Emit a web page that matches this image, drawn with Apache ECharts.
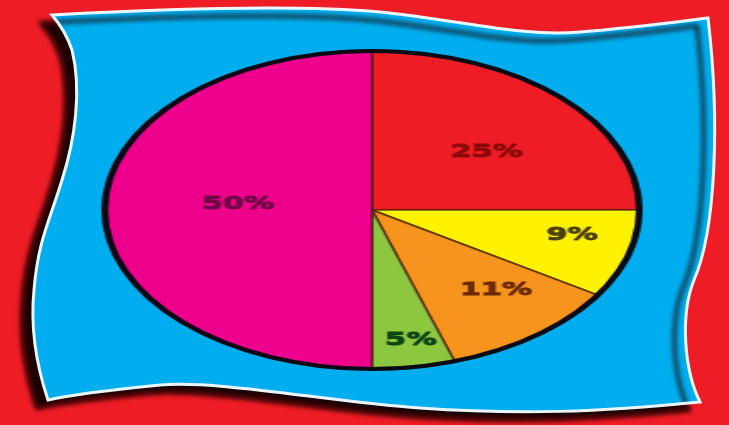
<!DOCTYPE html>
<html>
<head>
<meta charset="utf-8">
<script src="https://cdn.jsdelivr.net/npm/echarts@6/dist/echarts.min.js"></script>
<style>
    html, body { margin: 0; padding: 0; background: #ee1c25; }
    #flag { position: absolute; left: 0; top: 0; width: 729px; height: 425px; }
    /* pie is drawn round, then stretched into the ellipse of the picture */
    #pie { position: absolute; left: 211px; top: 49px; width: 322px; height: 322px;
           transform: scaleX(1.681); transform-origin: 50% 50%; }
</style>
</head>
<body>
<div id="flag"></div>
<div id="pie"></div>
<script>
    var categories = ['25%', '9%', '11%', '5%', '50%'];
    var values = [25, 9, 11, 5, 50];
    var sliceColors = ['#ee1c25', '#fff200', '#f7941d', '#8dc63f', '#ec008c'];
    var labelColors = ['#8a0a0a', '#4a4000', '#6b2a00', '#0c4412', '#6e0842'];
    // where each label sits: share of the radius, and a small turn in degrees
    var labelRadius = [0.56, 0.76, 0.68, 0.825, 0.5];
    var labelTurn = [4.7, -4.3, -4.9, -1.1, 4.3];

    var total = values.reduce(function (a, b) { return a + b; }, 0);

    // wavy flag outline
    var flagPath = 'M52,15 C180,8 300,5 380,12 C460,20 520,37 580,32 C640,27 690,20 708,18 ' +
        'C720,120 716,230 694,280 C680,315 684,370 700,402 ' +
        'C600,412 520,415 420,408 C330,402 220,380 160,385 C110,390 70,395 48,400 ' +
        'C38,370 30,330 34,290 C38,240 50,220 62,180 C75,140 82,90 72,50 C66,32 58,22 52,15 Z';
    echarts.graphic.registerShape('flag', echarts.graphic.extendPath(flagPath, {}));

    var flagChart = echarts.init(document.getElementById('flag'));
    flagChart.setOption({
        backgroundColor: '#ee1c25',
        animation: false,
        graphic: [{
            type: 'flag',
            silent: true,
            style: {
                fill: '#00aeef',
                stroke: '#eaf6ff',
                lineWidth: 3,
                shadowColor: 'rgba(30,0,0,1)',
                shadowBlur: 5,
                shadowOffsetX: -11,
                shadowOffsetY: 8
            }
        }]
    });

    var pieChart = echarts.init(document.getElementById('pie'));
    var cx = pieChart.getWidth() / 2;
    var cy = pieChart.getHeight() / 2;
    var R = 160;

    pieChart.setOption({
        animation: false,
        series: [{
            type: 'pie',
            radius: R,
            center: ['50%', '50%'],
            startAngle: 90,
            clockwise: true,
            silent: true,
            data: values.map(function (v, i) {
                return {
                    name: categories[i],
                    value: v,
                    itemStyle: { color: sliceColors[i] },
                    label: { color: labelColors[i], textBorderColor: labelColors[i] }
                };
            }),
            itemStyle: {
                borderColor: 'rgba(70,30,10,0.75)',
                borderWidth: 1.5
            },
            label: {
                position: 'inside',
                formatter: function (p) { return p.name; },
                fontFamily: 'DejaVu Sans',
                fontWeight: 'bold',
                fontSize: 18,
                textBorderWidth: 0.9
            },
            labelLine: { show: false },
            labelLayout: function (p) {
                var i = p.dataIndex;
                var before = 0;
                for (var k = 0; k < i; k++) before += values[k];
                var a = (before + values[i] / 2) / total * Math.PI * 2 + labelTurn[i] * Math.PI / 180;
                var r = R * labelRadius[i];
                return {
                    x: cx + r * Math.sin(a),
                    y: cy - r * Math.cos(a),
                    align: 'center',
                    verticalAlign: 'middle'
                };
            }
        }, {
            // black rim round the pie
            type: 'pie',
            radius: [R - 3, R + 1],
            center: ['50%', '50%'],
            silent: true,
            label: { show: false },
            labelLine: { show: false },
            data: [{ value: total, name: 'rim' }],
            itemStyle: { color: '#0a0a14' }
        }]
    });
</script>
</body>
</html>
